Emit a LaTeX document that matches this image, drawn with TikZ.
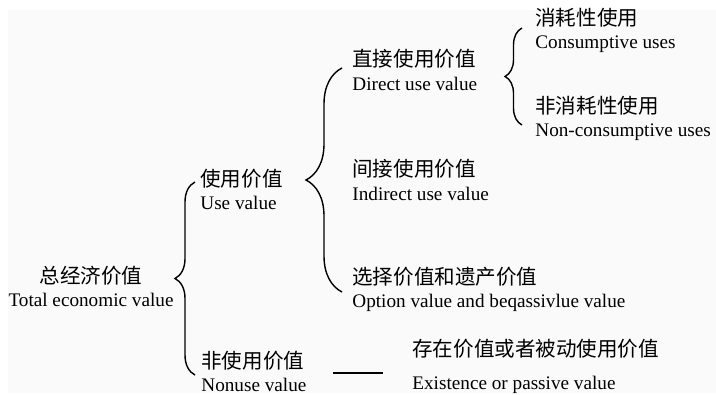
\documentclass[tikz,border=0pt]{standalone}
\usepackage{fontspec}
\setmainfont{Liberation Serif}
\newfontfamily\cjk[Scale=1.07]{Noto Sans CJK SC}
\usepackage{tikz}
\usetikzlibrary{decorations.pathreplacing}

\tikzset{
  lbl/.style={anchor=west,inner sep=0pt,align=left,font=\fontsize{9.6}{11.6}\selectfont},
  brc/.style={decorate,decoration={brace,amplitude=#1},line width=0.7pt},
}

\begin{document}
\begin{tikzpicture}[x=0.5pt,y=-0.5pt]
\useasboundingbox (0,0) rectangle (716,395);
\fill[black!2] (8,10) rectangle (716,393);
% tree labels
\node[lbl,anchor=center,align=center] (total) at (91,286.5) {{\cjk 总经济价值}\\Total economic value};
\node[lbl] (use) at (200,189.5) {{\cjk 使用价值}\\Use value};
\node[lbl] (nonuse) at (201,371.5) {{\cjk 非使用价值}\\Nonuse value};
\node[lbl] (direct) at (352,70) {{\cjk 直接使用价值}\\Direct use value};
\node[lbl] (indirect) at (352,180) {{\cjk 间接使用价值}\\Indirect use value};
\node[lbl] (option) at (352,289) {{\cjk 选择价值和遗产价值}\\Option value and beqassivlue value};
\node[lbl] (consum) at (535,30) {{\cjk 消耗性使用}\\Consumptive uses};
\node[lbl] (noncon) at (535,118.5) {{\cjk 非消耗性使用}\\Non-consumptive uses};
\node[lbl] (exist) at (412,366.5) {{\cjk 存在价值或者被动使用价值}\\[5pt]Existence or passive value};
% braces
\coordinate (b1a) at (195,375); \coordinate (b1b) at (195,182);
\coordinate (b2a) at (342,292); \coordinate (b2b) at (342,68);
\coordinate (b3a) at (522,125); \coordinate (b3b) at (522,28);
\draw[brc=10pt] (b1a) -- (b1b);
\draw[brc=18pt] (b2a) -- (b2b);
\draw[brc=8.5pt] (b3a) -- (b3b);
\draw[line width=0.9pt] ([xshift=13pt,yshift=-0.75pt]nonuse.east) -- +(50,0);
\end{tikzpicture}
\end{document}
